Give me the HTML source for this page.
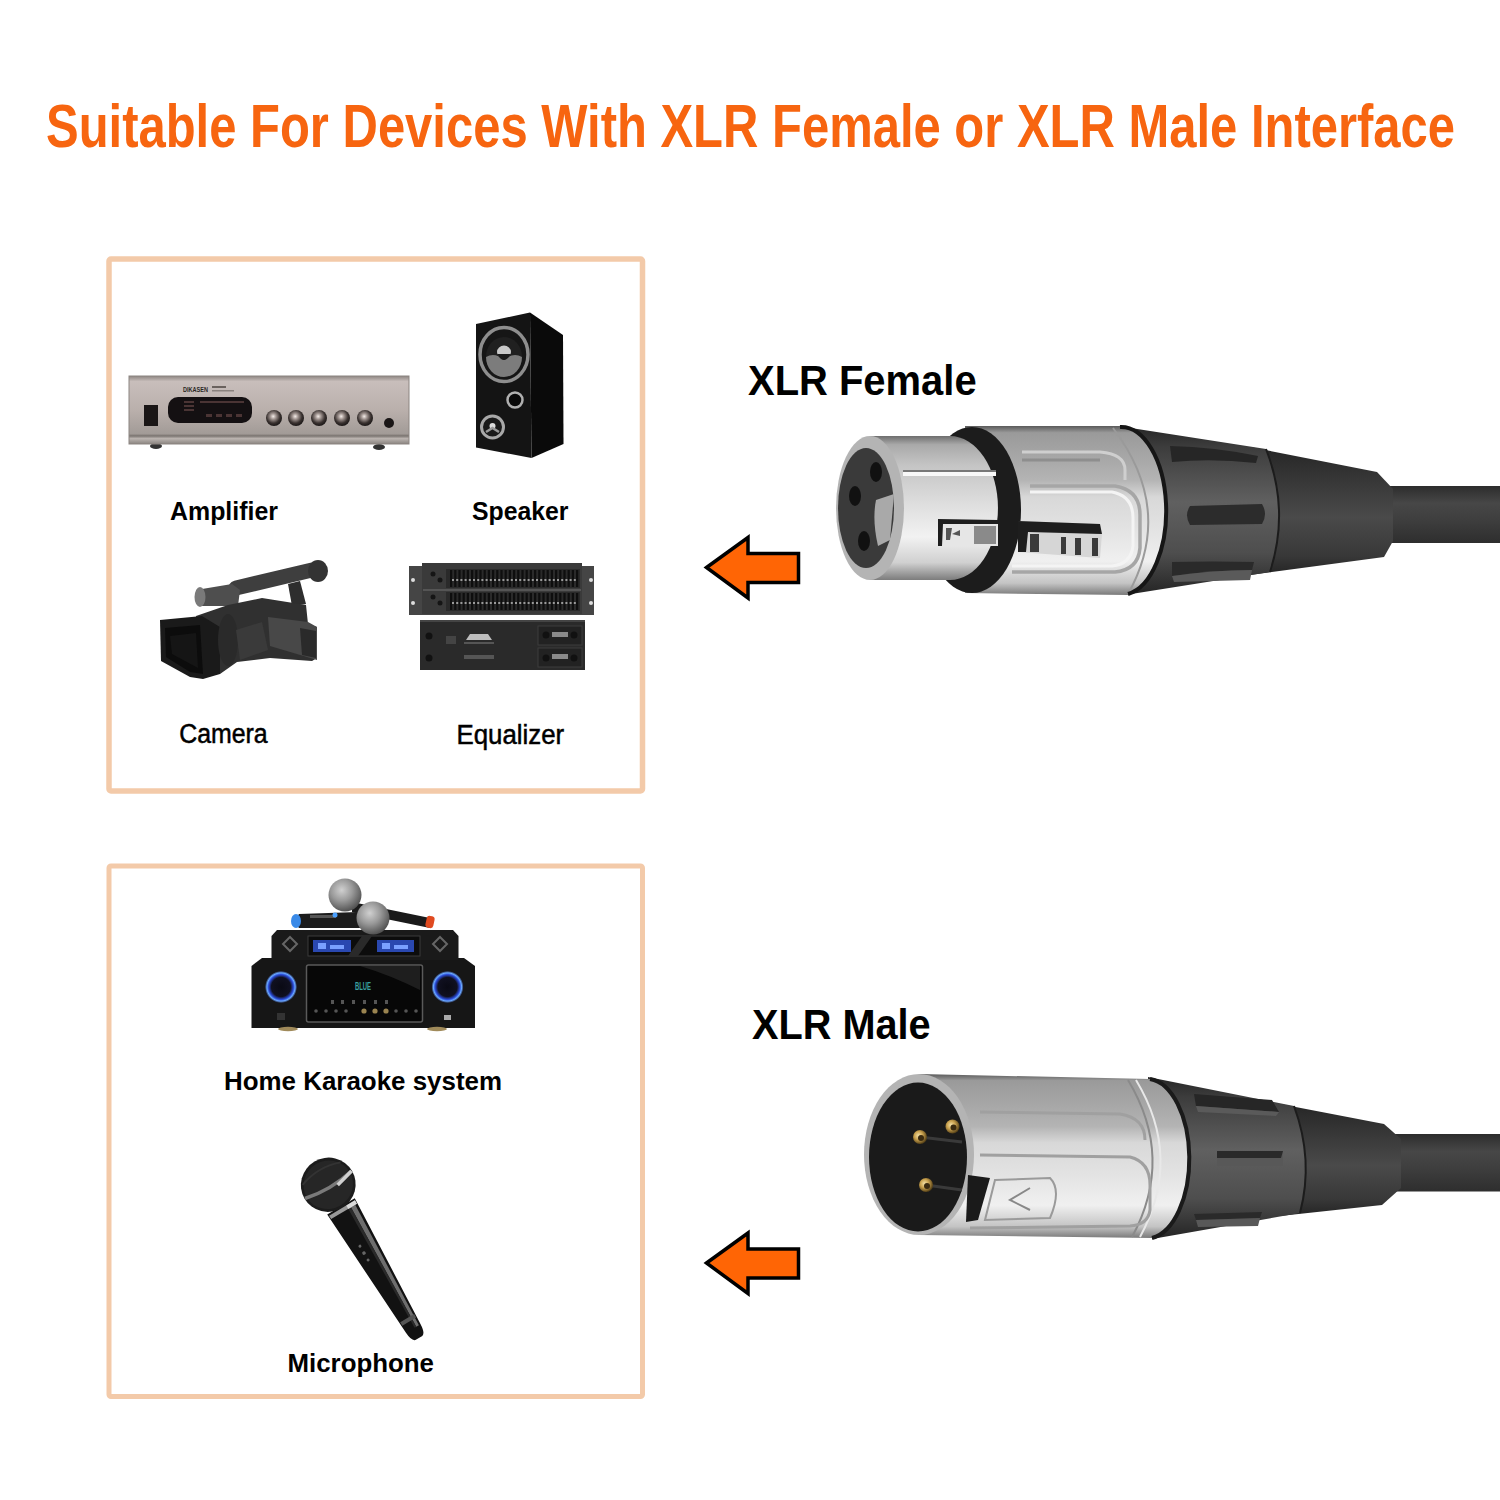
<!DOCTYPE html>
<html><head><meta charset="utf-8">
<style>
html,body{margin:0;padding:0;background:#fff;}
svg{display:block;}
.b{font-family:"Liberation Sans",sans-serif;font-weight:bold;}
.r{font-family:"Liberation Sans",sans-serif;}
</style></head><body>
<svg width="1500" height="1500" viewBox="0 0 1500 1500">
<defs>
<linearGradient id="gCable" x1="0" y1="0" x2="0" y2="1">
 <stop offset="0" stop-color="#2c2c2c"/><stop offset="0.3" stop-color="#474747"/><stop offset="0.6" stop-color="#3e3e3e"/><stop offset="1" stop-color="#2e2e2e"/>
</linearGradient>
<linearGradient id="gBoot" x1="0" y1="0" x2="0" y2="1">
 <stop offset="0" stop-color="#262626"/><stop offset="0.2" stop-color="#333"/><stop offset="0.55" stop-color="#4a4a4a"/><stop offset="0.85" stop-color="#383838"/><stop offset="1" stop-color="#242424"/>
</linearGradient>
<linearGradient id="gNut" x1="0" y1="0" x2="0" y2="1">
 <stop offset="0" stop-color="#262626"/><stop offset="0.12" stop-color="#3c3c3c"/><stop offset="0.45" stop-color="#606060"/><stop offset="0.75" stop-color="#4e4e4e"/><stop offset="1" stop-color="#242424"/>
</linearGradient>
<linearGradient id="gSilver" x1="0" y1="0" x2="0" y2="1">
 <stop offset="0" stop-color="#6e6e6e"/><stop offset="0.06" stop-color="#a9a9a9"/><stop offset="0.2" stop-color="#c4c4c4"/><stop offset="0.45" stop-color="#dcdcdc"/><stop offset="0.7" stop-color="#f2f2f2"/><stop offset="0.88" stop-color="#d0d0d0"/><stop offset="1" stop-color="#7c7c7c"/>
</linearGradient>
<linearGradient id="gSilver2" x1="0" y1="0" x2="0" y2="1">
 <stop offset="0" stop-color="#5a5a5a"/><stop offset="0.04" stop-color="#9a9a9a"/><stop offset="0.2" stop-color="#a8a8a8"/><stop offset="0.32" stop-color="#b4b4b4"/><stop offset="0.42" stop-color="#d8d8d8"/><stop offset="0.6" stop-color="#e2e2e2"/><stop offset="0.8" stop-color="#f0f0f0"/><stop offset="0.93" stop-color="#c4c4c4"/><stop offset="1" stop-color="#7a7a7a"/>
</linearGradient>
<radialGradient id="gPin" cx="0.4" cy="0.4" r="0.6">
 <stop offset="0" stop-color="#f5e2a8"/><stop offset="0.5" stop-color="#c9a14e"/><stop offset="1" stop-color="#5a4418"/>
</radialGradient>
<linearGradient id="gAmp" x1="0" y1="0" x2="0" y2="1">
 <stop offset="0" stop-color="#8e8682"/><stop offset="0.08" stop-color="#c8bebb"/><stop offset="0.5" stop-color="#bab0ac"/><stop offset="0.85" stop-color="#a29b97"/><stop offset="0.88" stop-color="#7a7470"/><stop offset="0.92" stop-color="#bbb4b0"/><stop offset="1" stop-color="#8a8480"/>
</linearGradient>
<radialGradient id="gKnob" cx="0.45" cy="0.4" r="0.6">
 <stop offset="0" stop-color="#f4ece8"/><stop offset="0.3" stop-color="#a09490"/><stop offset="0.7" stop-color="#3a3230"/><stop offset="1" stop-color="#1a1616"/>
</radialGradient>
<radialGradient id="gWoof" cx="0.5" cy="0.5" r="0.5">
 <stop offset="0" stop-color="#bbb"/><stop offset="0.3" stop-color="#333"/><stop offset="0.62" stop-color="#0e0e0e"/><stop offset="0.8" stop-color="#8a8a8a"/><stop offset="0.92" stop-color="#555"/><stop offset="1" stop-color="#111"/>
</radialGradient>
<radialGradient id="gBlueKnob" cx="0.5" cy="0.5" r="0.5">
 <stop offset="0" stop-color="#0a0a14"/><stop offset="0.6" stop-color="#101020"/><stop offset="0.78" stop-color="#2a4bd8"/><stop offset="0.88" stop-color="#6aa8ff"/><stop offset="1" stop-color="#1a1a2a"/>
</radialGradient>
<radialGradient id="gMicHead" cx="0.4" cy="0.35" r="0.65">
 <stop offset="0" stop-color="#d0d0d0"/><stop offset="0.5" stop-color="#9a9a9a"/><stop offset="1" stop-color="#555"/>
</radialGradient>
<linearGradient id="gMicHandle" x1="0" y1="0" x2="1" y2="0">
 <stop offset="0" stop-color="#111"/><stop offset="0.55" stop-color="#1e1e1e"/><stop offset="0.72" stop-color="#8a8a8a"/><stop offset="0.85" stop-color="#2a2a2a"/><stop offset="1" stop-color="#111"/>
</linearGradient>
</defs>
<rect width="1500" height="1500" fill="#fff"/>
<g id="amp">
<ellipse cx="156" cy="446" rx="6" ry="3" fill="#333"/><ellipse cx="379" cy="447" rx="6" ry="3" fill="#333"/>
<rect x="129" y="376" width="280" height="68" fill="url(#gAmp)"/>
<rect x="129" y="376" width="280" height="68" fill="none" stroke="#8c8581" stroke-width="1"/>
<rect x="168" y="397" width="84" height="26" rx="10" fill="#141012"/>
<g fill="#4a3434"><rect x="200" y="401" width="44" height="2"/><rect x="206" y="414" width="6" height="3"/><rect x="216" y="414" width="6" height="3"/><rect x="226" y="414" width="6" height="3"/><rect x="236" y="414" width="6" height="3"/><rect x="184" y="401" width="10" height="2"/><rect x="184" y="405" width="10" height="2"/><rect x="184" y="409" width="10" height="2"/></g>
<rect x="144" y="405" width="14" height="21" fill="#1a1616"/>
<text x="183" y="392" font-family="Liberation Sans" font-weight="bold" font-size="7" fill="#2a2624" textLength="25" lengthAdjust="spacingAndGlyphs">DIKASEN</text><rect x="212" y="386" width="14" height="2" fill="#6a625e"/><rect x="212" y="390" width="22" height="1.5" fill="#8a827e"/>
<circle cx="274" cy="418" r="8" fill="url(#gKnob)"/><circle cx="296" cy="418" r="8" fill="url(#gKnob)"/><circle cx="319" cy="418" r="8" fill="url(#gKnob)"/><circle cx="342" cy="418" r="8" fill="url(#gKnob)"/><circle cx="365" cy="418" r="8" fill="url(#gKnob)"/>
<circle cx="389" cy="423" r="5" fill="#1a1616"/>
</g>
<g id="speaker">
<polygon points="530,312.5 563,335 563.5,444 531.5,458" fill="#0a0a0a"/>
<polygon points="476,324 530,312.5 531.5,458 476,447.5" fill="#141414"/>
<ellipse cx="504" cy="354.5" rx="24" ry="27" fill="#161616" stroke="#8e8e8e" stroke-width="3.5"/>
<ellipse cx="504" cy="357" rx="18" ry="20" fill="#202020"/>
<path d="M486,357 A18,20 0 0 0 522,357 Q513,352 504,360 Q495,352 486,357 Z" fill="#7c7c7c"/>
<ellipse cx="504" cy="352" rx="7" ry="6.5" fill="#c8c8c8"/>
<path d="M497,354 Q504,366 511,354 Z" fill="#1a1a1a"/>
<circle cx="515" cy="400" r="7.5" fill="#0a0a0a" stroke="#b0b0b0" stroke-width="2.5"/>
<circle cx="492.5" cy="427" r="11" fill="#1a1a1a" stroke="#a8a8a8" stroke-width="3"/>
<circle cx="492.5" cy="426" r="3" fill="#ddd"/>
<path d="M486,432 L492.5,428 L499,432" fill="none" stroke="#999" stroke-width="2.5"/>
</g>
<g id="camera">
<path d="M236,588 L312,570" stroke="#3e3e3e" stroke-width="15" stroke-linecap="round"/>
<ellipse cx="318" cy="571" rx="10" ry="11" fill="#333"/>
<path d="M288,584 L300,581 L306,604 L292,606 Z" fill="#2e2e2e"/>
<path d="M196,590 L232,584 L240,590 L238,606 L200,606 Z" fill="#4e4e4e"/>
<ellipse cx="200" cy="597" rx="5.5" ry="10" fill="#7a7a7a"/>
<path d="M196,616 L228,605 L262,598 L306,605 L308,624 L317,627 L317,658 L312,661 L270,658 L237,662 L220,674 L200,660 Z" fill="#303030"/>
<path d="M268,617 L308,622 L317,627 L317,660 L270,646 Z" fill="#484848"/>
<path d="M300,628 L316,631 L316,658 L302,655 Z" fill="#2a2a2a"/>
<path d="M160,620 L202,616 L220,627 L220,674 L203,679 L190,677 L161,661 Z" fill="#1a1a1a"/>
<path d="M165,628 L200,625 L203,674 L190,672 L166,657 Z" fill="#0c0c0c"/>
<path d="M170,636 L196,633 L198,668 L172,654 Z" fill="#151515"/>
<ellipse cx="228" cy="640" rx="10" ry="26" fill="#2a2a2a"/>
<path d="M236,630 L262,622 L268,650 L240,660 Z" fill="#3a3a3a"/>
</g>
<g id="eq">
<rect x="409" y="566" width="185" height="49" fill="#454545"/>
<rect x="422" y="563" width="160" height="51" fill="#3a3a3a"/>
<rect x="423" y="589" width="158" height="2" fill="#555"/>
<rect x="446" y="569" width="134" height="19" fill="#2a2a2a"/>
<rect x="446" y="592" width="134" height="19" fill="#2a2a2a"/>
<rect x="450" y="570" width="2.2" height="17" fill="#0e0e0e"/><rect x="454.2" y="570" width="2.2" height="17" fill="#0e0e0e"/><rect x="458.4" y="570" width="2.2" height="17" fill="#0e0e0e"/><rect x="462.59999999999997" y="570" width="2.2" height="17" fill="#0e0e0e"/><rect x="466.79999999999995" y="570" width="2.2" height="17" fill="#0e0e0e"/><rect x="470.99999999999994" y="570" width="2.2" height="17" fill="#0e0e0e"/><rect x="475.19999999999993" y="570" width="2.2" height="17" fill="#0e0e0e"/><rect x="479.3999999999999" y="570" width="2.2" height="17" fill="#0e0e0e"/><rect x="483.5999999999999" y="570" width="2.2" height="17" fill="#0e0e0e"/><rect x="487.7999999999999" y="570" width="2.2" height="17" fill="#0e0e0e"/><rect x="491.9999999999999" y="570" width="2.2" height="17" fill="#0e0e0e"/><rect x="496.1999999999999" y="570" width="2.2" height="17" fill="#0e0e0e"/><rect x="500.39999999999986" y="570" width="2.2" height="17" fill="#0e0e0e"/><rect x="504.59999999999985" y="570" width="2.2" height="17" fill="#0e0e0e"/><rect x="508.79999999999984" y="570" width="2.2" height="17" fill="#0e0e0e"/><rect x="512.9999999999999" y="570" width="2.2" height="17" fill="#0e0e0e"/><rect x="517.1999999999999" y="570" width="2.2" height="17" fill="#0e0e0e"/><rect x="521.4" y="570" width="2.2" height="17" fill="#0e0e0e"/><rect x="525.6" y="570" width="2.2" height="17" fill="#0e0e0e"/><rect x="529.8000000000001" y="570" width="2.2" height="17" fill="#0e0e0e"/><rect x="534.0000000000001" y="570" width="2.2" height="17" fill="#0e0e0e"/><rect x="538.2000000000002" y="570" width="2.2" height="17" fill="#0e0e0e"/><rect x="542.4000000000002" y="570" width="2.2" height="17" fill="#0e0e0e"/><rect x="546.6000000000003" y="570" width="2.2" height="17" fill="#0e0e0e"/><rect x="550.8000000000003" y="570" width="2.2" height="17" fill="#0e0e0e"/><rect x="555.0000000000003" y="570" width="2.2" height="17" fill="#0e0e0e"/><rect x="559.2000000000004" y="570" width="2.2" height="17" fill="#0e0e0e"/><rect x="563.4000000000004" y="570" width="2.2" height="17" fill="#0e0e0e"/><rect x="567.6000000000005" y="570" width="2.2" height="17" fill="#0e0e0e"/><rect x="571.8000000000005" y="570" width="2.2" height="17" fill="#0e0e0e"/><rect x="576.0000000000006" y="570" width="2.2" height="17" fill="#0e0e0e"/><rect x="450" y="593" width="2.2" height="17" fill="#0e0e0e"/><rect x="454.2" y="593" width="2.2" height="17" fill="#0e0e0e"/><rect x="458.4" y="593" width="2.2" height="17" fill="#0e0e0e"/><rect x="462.59999999999997" y="593" width="2.2" height="17" fill="#0e0e0e"/><rect x="466.79999999999995" y="593" width="2.2" height="17" fill="#0e0e0e"/><rect x="470.99999999999994" y="593" width="2.2" height="17" fill="#0e0e0e"/><rect x="475.19999999999993" y="593" width="2.2" height="17" fill="#0e0e0e"/><rect x="479.3999999999999" y="593" width="2.2" height="17" fill="#0e0e0e"/><rect x="483.5999999999999" y="593" width="2.2" height="17" fill="#0e0e0e"/><rect x="487.7999999999999" y="593" width="2.2" height="17" fill="#0e0e0e"/><rect x="491.9999999999999" y="593" width="2.2" height="17" fill="#0e0e0e"/><rect x="496.1999999999999" y="593" width="2.2" height="17" fill="#0e0e0e"/><rect x="500.39999999999986" y="593" width="2.2" height="17" fill="#0e0e0e"/><rect x="504.59999999999985" y="593" width="2.2" height="17" fill="#0e0e0e"/><rect x="508.79999999999984" y="593" width="2.2" height="17" fill="#0e0e0e"/><rect x="512.9999999999999" y="593" width="2.2" height="17" fill="#0e0e0e"/><rect x="517.1999999999999" y="593" width="2.2" height="17" fill="#0e0e0e"/><rect x="521.4" y="593" width="2.2" height="17" fill="#0e0e0e"/><rect x="525.6" y="593" width="2.2" height="17" fill="#0e0e0e"/><rect x="529.8000000000001" y="593" width="2.2" height="17" fill="#0e0e0e"/><rect x="534.0000000000001" y="593" width="2.2" height="17" fill="#0e0e0e"/><rect x="538.2000000000002" y="593" width="2.2" height="17" fill="#0e0e0e"/><rect x="542.4000000000002" y="593" width="2.2" height="17" fill="#0e0e0e"/><rect x="546.6000000000003" y="593" width="2.2" height="17" fill="#0e0e0e"/><rect x="550.8000000000003" y="593" width="2.2" height="17" fill="#0e0e0e"/><rect x="555.0000000000003" y="593" width="2.2" height="17" fill="#0e0e0e"/><rect x="559.2000000000004" y="593" width="2.2" height="17" fill="#0e0e0e"/><rect x="563.4000000000004" y="593" width="2.2" height="17" fill="#0e0e0e"/><rect x="567.6000000000005" y="593" width="2.2" height="17" fill="#0e0e0e"/><rect x="571.8000000000005" y="593" width="2.2" height="17" fill="#0e0e0e"/><rect x="576.0000000000006" y="593" width="2.2" height="17" fill="#0e0e0e"/><rect x="452.0" y="579" width="2" height="2" fill="#9a9a9a"/><rect x="456.2" y="579" width="2" height="2" fill="#9a9a9a"/><rect x="460.4" y="579" width="2" height="2" fill="#9a9a9a"/><rect x="464.6" y="579" width="2" height="2" fill="#9a9a9a"/><rect x="468.8" y="579" width="2" height="2" fill="#9a9a9a"/><rect x="473.0" y="579" width="2" height="2" fill="#9a9a9a"/><rect x="477.2" y="579" width="2" height="2" fill="#9a9a9a"/><rect x="481.4" y="579" width="2" height="2" fill="#9a9a9a"/><rect x="485.6" y="579" width="2" height="2" fill="#9a9a9a"/><rect x="489.8" y="579" width="2" height="2" fill="#9a9a9a"/><rect x="494.0" y="579" width="2" height="2" fill="#9a9a9a"/><rect x="498.2" y="579" width="2" height="2" fill="#9a9a9a"/><rect x="502.4" y="579" width="2" height="2" fill="#9a9a9a"/><rect x="506.6" y="579" width="2" height="2" fill="#9a9a9a"/><rect x="510.8" y="579" width="2" height="2" fill="#9a9a9a"/><rect x="515.0" y="579" width="2" height="2" fill="#9a9a9a"/><rect x="519.2" y="579" width="2" height="2" fill="#9a9a9a"/><rect x="523.4" y="579" width="2" height="2" fill="#9a9a9a"/><rect x="527.6" y="579" width="2" height="2" fill="#9a9a9a"/><rect x="531.8" y="579" width="2" height="2" fill="#9a9a9a"/><rect x="536.0" y="579" width="2" height="2" fill="#9a9a9a"/><rect x="540.2" y="579" width="2" height="2" fill="#9a9a9a"/><rect x="544.4" y="579" width="2" height="2" fill="#9a9a9a"/><rect x="548.6" y="579" width="2" height="2" fill="#9a9a9a"/><rect x="552.8" y="579" width="2" height="2" fill="#9a9a9a"/><rect x="557.0" y="579" width="2" height="2" fill="#9a9a9a"/><rect x="561.2" y="579" width="2" height="2" fill="#9a9a9a"/><rect x="565.4" y="579" width="2" height="2" fill="#9a9a9a"/><rect x="569.6" y="579" width="2" height="2" fill="#9a9a9a"/><rect x="573.8" y="579" width="2" height="2" fill="#9a9a9a"/><rect x="452.0" y="602" width="2" height="2" fill="#9a9a9a"/><rect x="456.2" y="602" width="2" height="2" fill="#9a9a9a"/><rect x="460.4" y="602" width="2" height="2" fill="#9a9a9a"/><rect x="464.6" y="602" width="2" height="2" fill="#9a9a9a"/><rect x="468.8" y="602" width="2" height="2" fill="#9a9a9a"/><rect x="473.0" y="602" width="2" height="2" fill="#9a9a9a"/><rect x="477.2" y="602" width="2" height="2" fill="#9a9a9a"/><rect x="481.4" y="602" width="2" height="2" fill="#9a9a9a"/><rect x="485.6" y="602" width="2" height="2" fill="#9a9a9a"/><rect x="489.8" y="602" width="2" height="2" fill="#9a9a9a"/><rect x="494.0" y="602" width="2" height="2" fill="#9a9a9a"/><rect x="498.2" y="602" width="2" height="2" fill="#9a9a9a"/><rect x="502.4" y="602" width="2" height="2" fill="#9a9a9a"/><rect x="506.6" y="602" width="2" height="2" fill="#9a9a9a"/><rect x="510.8" y="602" width="2" height="2" fill="#9a9a9a"/><rect x="515.0" y="602" width="2" height="2" fill="#9a9a9a"/><rect x="519.2" y="602" width="2" height="2" fill="#9a9a9a"/><rect x="523.4" y="602" width="2" height="2" fill="#9a9a9a"/><rect x="527.6" y="602" width="2" height="2" fill="#9a9a9a"/><rect x="531.8" y="602" width="2" height="2" fill="#9a9a9a"/><rect x="536.0" y="602" width="2" height="2" fill="#9a9a9a"/><rect x="540.2" y="602" width="2" height="2" fill="#9a9a9a"/><rect x="544.4" y="602" width="2" height="2" fill="#9a9a9a"/><rect x="548.6" y="602" width="2" height="2" fill="#9a9a9a"/><rect x="552.8" y="602" width="2" height="2" fill="#9a9a9a"/><rect x="557.0" y="602" width="2" height="2" fill="#9a9a9a"/><rect x="561.2" y="602" width="2" height="2" fill="#9a9a9a"/><rect x="565.4" y="602" width="2" height="2" fill="#9a9a9a"/><rect x="569.6" y="602" width="2" height="2" fill="#9a9a9a"/><rect x="573.8" y="602" width="2" height="2" fill="#9a9a9a"/>
<g fill="#151515"><circle cx="433" cy="574" r="2.5"/><circle cx="440" cy="580" r="2.5"/><circle cx="433" cy="597" r="2.5"/><circle cx="440" cy="603" r="2.5"/></g>
<circle cx="413" cy="580" r="2" fill="#ddd"/><circle cx="413" cy="603" r="2" fill="#ddd"/><circle cx="591" cy="580" r="2" fill="#ddd"/><circle cx="591" cy="603" r="2" fill="#ddd"/>
<rect x="420" y="620" width="165" height="50" fill="#2a2a2a"/>
<rect x="420" y="620" width="165" height="2" fill="#444"/>
<rect x="538" y="626" width="44" height="19" fill="#222" stroke="#3c3c3c" stroke-width="1"/>
<rect x="538" y="648" width="44" height="19" fill="#222" stroke="#3c3c3c" stroke-width="1"/>
<g fill="#111"><circle cx="546" cy="635" r="3.5"/><circle cx="574" cy="635" r="3.5"/><circle cx="546" cy="658" r="3.5"/><circle cx="574" cy="658" r="3.5"/><circle cx="429" cy="636" r="3.5"/><circle cx="429" cy="658" r="3.5"/></g>
<rect x="552" y="632" width="16" height="5" fill="#8a8a8a"/><rect x="552" y="654" width="16" height="5" fill="#8a8a8a"/>
<path d="M466,640 L470,634 L488,634 L492,640 Z" fill="#bdbdbd"/>
<rect x="464" y="642" width="30" height="2" fill="#555"/>
<rect x="464" y="655" width="30" height="4" fill="#555"/>
<rect x="446" y="636" width="10" height="8" fill="#444"/>
</g>
<g id="karaoke">
<path d="M251.5,966 L262,958 L464,958 L475,966 L475,1028 L251.5,1028 Z" fill="#161616"/>
<ellipse cx="288" cy="1029" rx="10" ry="2.2" fill="#a08a5a"/><ellipse cx="437" cy="1029" rx="10" ry="2.2" fill="#a08a5a"/>
<rect x="306.5" y="965" width="116" height="57" rx="2" fill="#070707" stroke="#5a5a5a" stroke-width="1.5"/>
<path d="M360,966 L420,966 L420,990 Q390,975 360,966 Z" fill="#1e1e1e"/>
<text x="355" y="990" font-family="Liberation Sans" font-weight="bold" font-size="10" fill="#3aa0a0" textLength="16" lengthAdjust="spacingAndGlyphs">BLUE</text>
<g fill="#555"><rect x="331" y="1000" width="3" height="4"/><rect x="341" y="1000" width="3" height="4"/><rect x="352" y="1000" width="3" height="4"/><rect x="363" y="1000" width="3" height="4"/><rect x="374" y="1000" width="3" height="4"/><rect x="385" y="1000" width="3" height="4"/></g>
<g fill="#555"><circle cx="316" cy="1011" r="1.8"/><circle cx="326" cy="1011" r="1.8"/><circle cx="336" cy="1011" r="1.8"/><circle cx="346" cy="1011" r="1.8"/><circle cx="396" cy="1011" r="1.8"/><circle cx="406" cy="1011" r="1.8"/><circle cx="416" cy="1011" r="1.8"/></g>
<g fill="#9a8450"><circle cx="364" cy="1011" r="2.6"/><circle cx="375" cy="1011" r="2.6"/><circle cx="386" cy="1011" r="2.6"/></g>
<circle cx="281" cy="987" r="16" fill="url(#gBlueKnob)"/>
<circle cx="447.5" cy="987" r="16" fill="url(#gBlueKnob)"/>
<rect x="277" y="1013" width="8" height="7" fill="#333"/>
<rect x="444" y="1015" width="7" height="5" fill="#aaa"/>
<path d="M271.5,936 L277,930 L453,930 L458.5,936 L458.5,960 L271.5,960 Z" fill="#1a1a1a"/>
<rect x="308" y="936" width="112" height="20" fill="#0c0c0c" stroke="#3a3a3a" stroke-width="1"/>
<rect x="313" y="940" width="38" height="12" fill="#2a48b0"/>
<rect x="377" y="940" width="37" height="12" fill="#2a48b0"/>
<g fill="#7aa0ff"><rect x="318" y="943" width="8" height="6"/><rect x="330" y="945" width="14" height="4"/><rect x="382" y="943" width="8" height="6"/><rect x="394" y="945" width="14" height="4"/></g>
<path d="M362,936 L372,936 L358,956 L348,956 Z" fill="#2a2a2a"/>
<path d="M290,937 L297,944 L290,951 L283,944 Z" fill="none" stroke="#666" stroke-width="2"/>
<path d="M440,937 L447,944 L440,951 L433,944 Z" fill="none" stroke="#666" stroke-width="2"/>
<path d="M352,902 L430,918 Q436,922 430,928 L352,912 Z" fill="#1a1a1a"/>
<rect x="426" y="916" width="8" height="12" rx="3" fill="#e04a20" transform="rotate(12 430 922)"/>
<circle cx="345" cy="895" r="16.5" fill="url(#gMicHead)"/>
<path d="M299,914 L358,912 L360,928 L299,928 Q292,921 299,914 Z" fill="#1c1c1c"/>
<rect x="310" y="915" width="26" height="3" fill="#555"/>
<ellipse cx="296" cy="921" rx="5" ry="7" fill="#3a8ae8"/>
<circle cx="335" cy="915" r="2.5" fill="#4aa0ff"/>
<circle cx="373" cy="918" r="16.5" fill="url(#gMicHead)"/>
</g>
<g id="mic" transform="translate(342,1208) rotate(59.4)">
<path d="M-2,-16 L140,-8.5 Q150,-8 151,-4 L151,4 Q150,8 140,8.5 L-2,16 Z" fill="#121212"/>
<path d="M4,-13 L140,-6.5 L140,-3.5 L4,-8 Z" fill="#6e6e6e"/>
<path d="M4,-8 L140,-3.5 L140,-1.5 L4,-5 Z" fill="#2a2a2a"/>
<path d="M128,-8 L132,-8 L132,8 L128,8 Z" fill="#555"/>
<g fill="#666"><circle cx="42" cy="4" r="1.5"/><circle cx="50" cy="4" r="1.8"/><circle cx="58" cy="4" r="1.5"/></g>
<ellipse cx="-27" cy="0" rx="27" ry="27.5" fill="#1c1c1c"/>
<ellipse cx="-27" cy="0" rx="24" ry="25" fill="#262626"/>
<path d="M-27,-27 Q-21,0 -27,27" fill="none" stroke="#7a7a7a" stroke-width="3.5"/>
<path d="M-27,-27 Q-24,-16 -22,-8" fill="none" stroke="#d0d0d0" stroke-width="3.5"/>
<path d="M-40,-22 Q-48,0 -40,22" fill="none" stroke="#333" stroke-width="2"/>
<path d="M0,-15 L4,-15 L4,15 L0,15 Z" fill="#9a9a9a"/>
<path d="M0,-15 L4,-15 L4,-5 L0,-5 Z" fill="#dadada"/>
</g>
<g id="female">
<rect x="1385" y="486" width="115" height="57" fill="url(#gCable)"/>
<path d="M1250,447 L1377,472 L1393,489 L1393,541 L1384,557 L1250,575 Z" fill="url(#gBoot)"/>
<path d="M1118,426 L1266,449 Q1290,510 1270,572 L1125,595 Z" fill="url(#gNut)"/>
<path d="M1266,449 Q1290,510 1270,572" fill="none" stroke="#1c1c1c" stroke-width="2"/>
<path d="M1170,446 Q1215,447 1258,456 L1256,463 Q1212,458 1172,462 Z" fill="#262626"/>
<path d="M1190,506 L1262,504 Q1268,514 1262,524 L1190,525 Q1184,515 1190,506 Z" fill="#2c2c2c"/>
<path d="M1172,562 Q1212,561 1254,562 L1252,570 Q1212,570 1172,576 Z" fill="#2a2a2a"/><path d="M1172,576 Q1212,570 1252,570 L1250,580 L1174,582 Z" fill="#5a5a5a"/>
<path d="M965,426 L1120,426 A45,85 0 0 1 1128,595 L965,593 Z" fill="url(#gSilver2)"/>
<path d="M1020,489 L1118,489 Q1140,492 1140,520 L1140,545 Q1138,570 1115,572 L1012,572 L1012,600 L1160,600 L1160,489 Z" fill="#c4c4c4" opacity="0.0"/>
<path d="M1022,452 L1100,452 Q1125,454 1125,470 L1125,480" fill="none" stroke="#cfcfcf" stroke-width="3"/>
<path d="M1022,460 L1100,460" fill="none" stroke="#8e8e8e" stroke-width="3"/>
<path d="M1030,486 L1115,486 Q1140,490 1140,515 L1140,548 Q1138,570 1115,572 L1012,572" fill="none" stroke="#a6a6a6" stroke-width="3.5"/>
<path d="M1030,492 L1112,492 Q1133,496 1133,518 L1133,546 Q1131,564 1112,566 L1012,566" fill="none" stroke="#f4f4f4" stroke-width="3"/>
<path d="M1113,428 Q1175,510 1128,594" fill="none" stroke="#9a9a9a" stroke-width="2"/>
<path d="M1120,427 A45,84 0 0 1 1128,594" fill="none" stroke="#161616" stroke-width="4"/>
<ellipse cx="972" cy="510" rx="49" ry="83" fill="#1c1c1c"/>
<path d="M870,436 L950,436 A48,72 0 0 1 950,580 L870,580 Z" fill="url(#gSilver)"/>
<path d="M903,474 L996,474" stroke="#f8f8f8" stroke-width="4"/>
<path d="M903,471 L996,471" stroke="#777" stroke-width="2"/>
<path d="M938,519 L998,520 L998,546 L938,546 Z" fill="#e6e6e6"/>
<path d="M938,519 L998,520 L998,524 L943,524 L942,546 L938,546 Z" fill="#1e1e1e"/>
<rect x="974" y="526" width="22" height="18" fill="#8a8a8a"/>
<path d="M946,528 L952,528 L950,540 L946,540 Z M952,534 L960,530 L960,536 Z" fill="#555"/>
<path d="M1018,521 L1100,524 L1102,534 L1100,558 L1018,552 Z" fill="#d6d6d6"/>
<path d="M1018,521 L1100,524 L1102,534 L1028,532 L1026,552 L1018,552 Z" fill="#1e1e1e"/>
<g fill="#3a3a3a"><rect x="1030" y="534" width="9" height="18"/><rect x="1061" y="537" width="5" height="17"/><rect x="1075" y="538" width="6" height="17"/><rect x="1092" y="538" width="6" height="18"/></g>
<ellipse cx="870" cy="508" rx="34" ry="72" fill="#b4b4b4"/>
<ellipse cx="866" cy="508" rx="28" ry="60" fill="#3a3a3a"/>
<path d="M894,494 L876,500 Q872,520 878,546 L890,540 Z" fill="#a9a9a9"/>
<ellipse cx="876" cy="472" rx="6" ry="10" fill="#111"/>
<ellipse cx="855" cy="496" rx="6" ry="10" fill="#111"/>
<ellipse cx="864" cy="541" rx="6" ry="10" fill="#111"/>
</g>
<g id="male">
<rect x="1395" y="1134" width="105" height="57.5" fill="url(#gCable)"/>
<path d="M1280,1104 L1384,1124 L1401,1139 L1401,1188 L1382,1205 L1280,1216 Z" fill="url(#gBoot)"/>
<path d="M1148,1077 L1294,1106 Q1314,1160 1300,1213 L1152,1239 Z" fill="url(#gNut)"/>
<path d="M1294,1106 Q1314,1160 1300,1213" fill="none" stroke="#1c1c1c" stroke-width="2"/>
<path d="M1194,1094 L1272,1100 L1279,1112 L1196,1106 Z" fill="#262626"/><path d="M1196,1106 L1279,1112 L1276,1116 L1198,1112 Z" fill="#5a5a5a"/>
<path d="M1217,1151 L1283,1151 L1283,1166 L1217,1166 Z" fill="#585858"/><path d="M1217,1151 L1283,1151 L1281,1158 L1217,1158 Z" fill="#2a2a2a"/>
<path d="M1194,1214 L1262,1212 L1260,1218 L1196,1220 Z" fill="#2a2a2a"/><path d="M1196,1220 L1260,1218 L1258,1226 L1198,1227 Z" fill="#585858"/>
<path d="M919,1074 L1150,1079 A43,80 0 0 1 1152,1238 L919,1235 Z" fill="url(#gSilver2)"/>
<path d="M1150,1079 A43,80 0 0 1 1152,1238" fill="none" stroke="#1a1a1a" stroke-width="4"/>
<path d="M1128,1080 Q1175,1158 1132,1237" fill="none" stroke="#8a8a8a" stroke-width="2"/>
<path d="M1136,1080 Q1183,1158 1140,1237" fill="none" stroke="#e8e8e8" stroke-width="2"/>
<path d="M980,1112 L1120,1114 Q1145,1118 1145,1140" fill="none" stroke="#a0a0a0" stroke-width="3"/>
<path d="M980,1155 L1130,1157 Q1150,1162 1150,1185 L1150,1210 Q1148,1225 1130,1226 L970,1228" fill="none" stroke="#a0a0a0" stroke-width="3"/>
<ellipse cx="919" cy="1154.5" rx="55" ry="80.5" fill="#b4b4b4"/>
<ellipse cx="918" cy="1157" rx="49" ry="74.5" fill="#1a1a1a"/>
<path d="M968,1175 L990,1178 L978,1220 L966,1222 Z" fill="#1a1a1a"/><path d="M995,1180 L1050,1178 Q1062,1190 1050,1218 L985,1220 Z" fill="none" stroke="#9a9a9a" stroke-width="2"/><path d="M1030,1188 L1010,1200 L1030,1210" fill="none" stroke="#888" stroke-width="2"/>
<path d="M920,1137 L962,1142" stroke="#3a3a3a" stroke-width="3"/>
<path d="M926,1185 L962,1190" stroke="#3a3a3a" stroke-width="3"/>
<circle cx="920" cy="1137" r="7" fill="url(#gPin)"/><circle cx="921" cy="1138" r="3" fill="#3a2a10"/>
<circle cx="952.5" cy="1126.5" r="7" fill="url(#gPin)"/><circle cx="953.5" cy="1127.5" r="3" fill="#3a2a10"/>
<circle cx="926" cy="1185" r="7" fill="url(#gPin)"/><circle cx="927" cy="1186" r="3" fill="#3a2a10"/>
</g>

<!-- title -->
<text id="t_title" class="b" x="46" y="147" font-size="61.3" fill="#f76510" textLength="1409" lengthAdjust="spacingAndGlyphs">Suitable For Devices With XLR Female or XLR Male Interface</text>
<!-- boxes -->
<rect x="109" y="259" width="533.5" height="532" fill="none" stroke="#f3caa9" stroke-width="5.5" rx="2"/>
<rect x="109" y="866" width="533.5" height="530.5" fill="none" stroke="#f3caa9" stroke-width="5" rx="2"/>
<!-- labels -->
<text id="t_amp" class="b" x="170" y="520" font-size="26.6" textLength="108" lengthAdjust="spacingAndGlyphs" fill="#000">Amplifier</text>
<text id="t_spk" class="b" x="472" y="519.6" font-size="26.6" textLength="96.5" lengthAdjust="spacingAndGlyphs" fill="#000">Speaker</text>
<text id="t_cam" class="r" stroke="#000" stroke-width="0.5" x="179.2" y="742.6" font-size="27" textLength="88.5" lengthAdjust="spacingAndGlyphs" fill="#000">Camera</text>
<text id="t_eq" class="r" stroke="#000" stroke-width="0.5" x="456.5" y="743.8" font-size="27" textLength="107.7" lengthAdjust="spacingAndGlyphs" fill="#000">Equalizer</text>
<text id="t_kar" class="b" x="224" y="1090.4" font-size="25.3" textLength="278" lengthAdjust="spacingAndGlyphs" fill="#000">Home Karaoke system</text>
<text id="t_mic" class="b" x="287.5" y="1371.7" font-size="26.3" textLength="146.5" lengthAdjust="spacingAndGlyphs" fill="#000">Microphone</text>
<text id="t_xf" class="b" x="748" y="395" font-size="41.7" textLength="228.6" lengthAdjust="spacingAndGlyphs" fill="#000">XLR Female</text>
<text id="t_xm" class="b" x="752" y="1039.2" font-size="41.7" textLength="178.6" lengthAdjust="spacingAndGlyphs" fill="#000">XLR Male</text>
<!-- arrows -->
<polygon points="706.5,567.5 748,537.5 748,553.5 798.5,553.5 798.5,582.5 748,582.5 748,598" fill="#ff6505" stroke="#000" stroke-width="3.5" stroke-linejoin="miter"/>
<polygon points="706.5,1263 748,1233 748,1249 798.5,1249 798.5,1278 748,1278 748,1293.5" fill="#ff6505" stroke="#000" stroke-width="3.5" stroke-linejoin="miter"/>
</svg>
</body></html>
